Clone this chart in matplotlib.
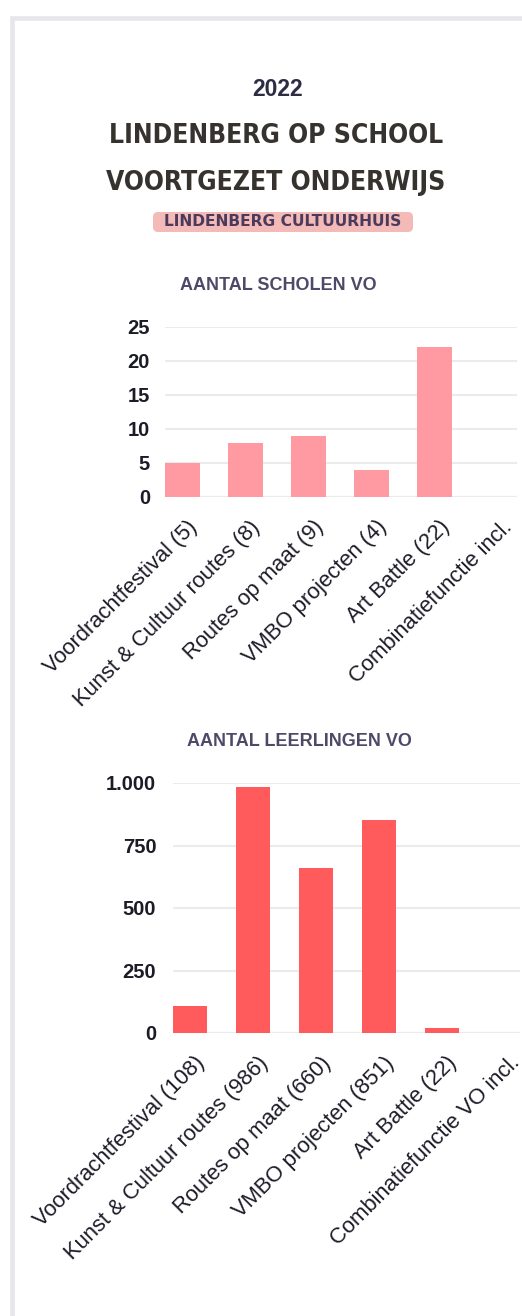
import matplotlib
matplotlib.use("Agg")
import matplotlib.pyplot as plt
from matplotlib.patches import Rectangle, FancyBboxPatch
from matplotlib.ticker import FuncFormatter
from matplotlib.font_manager import FontProperties
import matplotlib.transforms as mtransforms

# data
scholen_labels = ["Voordrachtfestival (5)", "Kunst & Cultuur routes (8)", "Routes op maat (9)",
                  "VMBO projecten (4)", "Art Battle (22)", "Combinatiefunctie incl."]
scholen_values = [5, 8, 9, 4, 22, 0]
scholen_ticks = [0, 5, 10, 15, 20, 25]

leerlingen_labels = ["Voordrachtfestival (108)", "Kunst & Cultuur routes (986)", "Routes op maat (660)",
                     "VMBO projecten (851)", "Art Battle (22)", "Combinatiefunctie VO incl."]
leerlingen_values = [108, 986, 660, 851, 22, 0]
leerlingen_ticks = [0, 250, 500, 750, 1000]

W, H = 522, 1316
DPI = 100
plt.rcParams["font.family"] = ["Liberation Sans", "DejaVu Sans"]

fig = plt.figure(figsize=(W / DPI, H / DPI), dpi=DPI)
fig.patch.set_facecolor("white")
pixels = mtransforms.IdentityTransform()


def px_rect(left, top, right, bottom):
    return [left / W, 1 - bottom / H, (right - left) / W, (bottom - top) / H]


# card frame
fig.patches.append(Rectangle((12 / W, -0.05), 1.1, (1316 - 17.5) / H + 0.05,
                             transform=fig.transFigure, facecolor="white",
                             edgecolor="#e6e6ec", linewidth=3.3, zorder=-5))

# header
fig.text(278 / W, 1 - 90 / H, "2022", ha="center", va="center", fontsize=16.5,
         fontweight="bold", color="#2e2b45")
title_fp = FontProperties(family="DejaVu Sans", stretch="condensed", weight="bold", size=19)
fig.text(276 / W, 1 - 136 / H, "LINDENBERG OP SCHOOL", ha="center", va="center",
         fontproperties=title_fp, color="#36332f")
fig.text(276 / W, 1 - 183 / H, "VOORTGEZET ONDERWIJS", ha="center", va="center",
         fontproperties=title_fp, color="#36332f")
fig.patches.append(FancyBboxPatch((153, H - 232), 260, 20,
                                  boxstyle="round,pad=0,rounding_size=5",
                                  transform=pixels, facecolor="#f3bab7",
                                  edgecolor="none", zorder=1))
fig.text(283 / W, 1 - 222 / H, "LINDENBERG CULTUURHUIS", ha="center", va="center",
         fontsize=11.2, family=["DejaVu Sans"], fontweight="bold", color="#4a3a5c", zorder=2)


def bar_panel(rect, labels, values, ticks, color, xlim, width, ypad, fmt):
    ax = fig.add_axes(rect)
    ax.set_facecolor("none")
    x = list(range(len(labels)))
    ax.bar(x, values, width=width, color=color, zorder=3, linewidth=0)
    ax.set_xlim(*xlim)
    ax.set_ylim(ticks[0], ticks[-1])
    ax.set_yticks(ticks)
    ax.yaxis.set_major_formatter(FuncFormatter(fmt))
    ax.grid(axis="y", color="#ebebeb", linewidth=1.5, zorder=0)
    ax.axhline(0, color="#e6e6e6", linewidth=1.5, zorder=1)
    for s in ax.spines.values():
        s.set_visible(False)
    ax.tick_params(axis="y", length=0, pad=ypad, labelsize=14.5, labelcolor="#1c1c28")
    for t in ax.get_yticklabels():
        t.set_fontweight("bold")
    ax.set_xticks(x)
    ax.set_xticklabels(labels, rotation=45, ha="right", va="top",
                       rotation_mode="anchor", fontsize=15.8, color="#1c1c28")
    ax.tick_params(axis="x", length=0, pad=14)
    offset = mtransforms.ScaledTranslation(3 / 72, 0, fig.dpi_scale_trans)
    for t in ax.get_xticklabels():
        t.set_transform(t.get_transform() + offset)
    return ax


bar_panel(px_rect(165, 327, 517, 497), scholen_labels, scholen_values, scholen_ticks,
          "#ff9aa2", (-0.28, -0.28 + 352 / 63), 0.56, 10.8,
          lambda v, p: f"{int(v)}")
fig.text(278 / W, 1 - 286 / H, "AANTAL SCHOLEN VO", ha="center", va="center",
         fontsize=13, fontweight="bold", color="#4d4969")

bar_panel(px_rect(173, 783, 520, 1033), leerlingen_labels, leerlingen_values, leerlingen_ticks,
          "#ff5a5c", (-0.27, -0.27 + 347 / 63), 0.54, 12,
          lambda v, p: f"{int(v):,}".replace(",", "."))
fig.text(299 / W, 1 - 741 / H, "AANTAL LEERLINGEN VO", ha="center", va="center",
         fontsize=13, fontweight="bold", color="#4d4969")

fig.savefig("out.png", dpi=DPI, facecolor="white")
